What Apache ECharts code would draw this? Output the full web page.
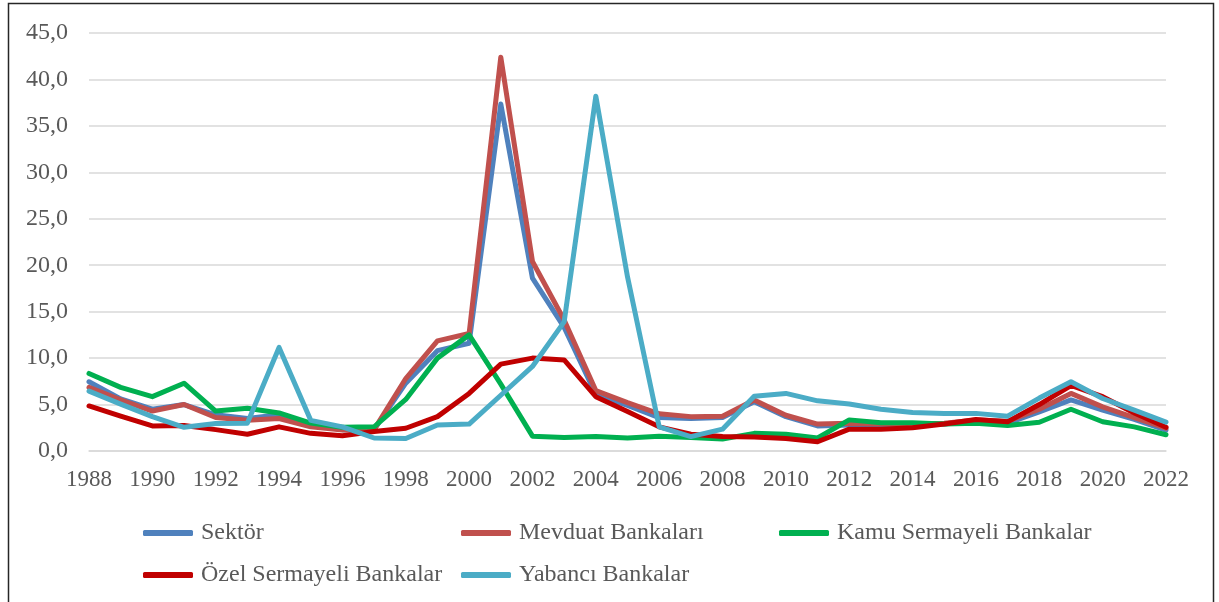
<!DOCTYPE html>
<html>
<head>
<meta charset="utf-8">
<script src="https://cdn.jsdelivr.net/npm/echarts@6/dist/echarts.min.js"></script>
<style>
  html, body { margin: 0; padding: 0; background: #fff; }
  #container { width: 1219px; height: 602px; }
</style>
</head>
<body>
<div id="container"></div>
<script>
  var years = [];
  for (var y = 1988; y <= 2022; y++) years.push(String(y));

  var sektor = [7.45, 5.6, 4.5, 5.0, 3.9, 3.5, 3.9, 2.8, 2.3, 2.3, 7.3, 10.8, 11.6, 37.35, 18.6, 13.3, 6.1, 4.9, 3.6, 3.5, 3.6, 5.3, 3.7, 2.7, 2.8, 2.8, 2.8, 2.9, 3.2, 3.0, 4.2, 5.5, 4.4, 3.4, 2.25];
  var mevduat = [6.85, 5.5, 4.3, 5.0, 3.6, 3.3, 3.5, 2.6, 2.25, 2.3, 7.8, 11.85, 12.65, 42.4, 20.4, 14.1, 6.5, 5.2, 4.0, 3.7, 3.75, 5.5, 3.85, 2.9, 3.0, 2.9, 2.9, 3.0, 3.35, 3.2, 4.5, 6.2, 4.75, 3.6, 2.45];
  var kamu = [8.35, 6.85, 5.85, 7.3, 4.3, 4.6, 4.1, 3.0, 2.55, 2.6, 5.55, 10.0, 12.5, 7.2, 1.6, 1.45, 1.55, 1.4, 1.6, 1.45, 1.3, 1.9, 1.8, 1.4, 3.35, 3.05, 3.05, 2.9, 3.0, 2.75, 3.1, 4.5, 3.15, 2.6, 1.75];
  var ozel = [4.85, 3.75, 2.7, 2.75, 2.3, 1.8, 2.6, 1.9, 1.65, 2.1, 2.45, 3.7, 6.2, 9.35, 10.0, 9.8, 5.85, 4.25, 2.6, 1.8, 1.55, 1.5, 1.35, 1.0, 2.35, 2.35, 2.5, 2.9, 3.4, 3.15, 5.0, 7.05, 5.85, 4.1, 2.55];
  var yabanci = [6.45, 5.05, 3.7, 2.55, 2.95, 3.0, 11.15, 3.3, 2.6, 1.4, 1.35, 2.8, 2.9, 6.0, 9.1, 13.9, 38.2, 18.75, 2.6, 1.55, 2.35, 5.9, 6.2, 5.4, 5.05, 4.5, 4.15, 4.05, 4.05, 3.75, 5.7, 7.45, 5.65, 4.4, 3.1];

  var names = ['Sektör', 'Mevduat Bankaları', 'Kamu Sermayeli Bankalar', 'Özel Sermayeli Bankalar', 'Yabancı Bankalar'];
  var colors = ['#4F81BD', '#C0504D', '#00B050', '#C00000', '#4BACC6'];
  var values = [sektor, mevduat, kamu, ozel, yabanci];

  var font = 'Liberation Serif';
  var textColor = '#595959';

  // legend positions (two rows, three columns)
  var legendPos = [[143, 521], [461, 521], [779, 521], [143, 563], [461, 563]];

  var myChart = echarts.init(document.getElementById('container'));

  var option = {
    animation: false,
    backgroundColor: '#fff',
    textStyle: { fontFamily: font },
    graphic: [{
      type: 'rect',
      shape: { x: 8.5, y: 3.5, width: 1205, height: 640 },
      style: { fill: 'none', stroke: '#262626', lineWidth: 1.5 },
      silent: true
    }],
    grid: { left: 89, right: 53, top: 33, bottom: 151 },
    legend: names.map(function (n, i) {
      return {
        data: [n],
        left: legendPos[i][0],
        top: legendPos[i][1],
        padding: 0,
        icon: 'roundRect',
        itemWidth: 50,
        itemHeight: 6,
        textStyle: { fontFamily: font, fontSize: 24, color: textColor, padding: [0, 0, 0, 3] }
      };
    }),
    xAxis: {
      type: 'category',
      data: years,
      boundaryGap: false,
      axisLine: { show: true, lineStyle: { color: '#d9d9d9', width: 1.5 } },
      axisTick: { show: false },
      axisLabel: {
        interval: 1,
        margin: 17,
        fontFamily: font,
        fontSize: 23,
        color: textColor
      }
    },
    yAxis: {
      type: 'value',
      min: 0,
      max: 45,
      interval: 5,
      axisLine: { show: false },
      axisTick: { show: false },
      splitLine: { lineStyle: { color: '#d9d9d9', width: 1.5 } },
      axisLabel: {
        margin: 21,
        fontFamily: font,
        fontSize: 24,
        color: textColor,
        formatter: function (v) { return v.toFixed(1).replace('.', ','); }
      }
    },
    series: names.map(function (n, i) {
      return {
        name: n,
        type: 'line',
        data: values[i],
        symbol: 'none',
        color: colors[i],
        lineStyle: { width: 5, color: colors[i], cap: 'round', join: 'round' }
      };
    })
  };

  myChart.setOption(option);
</script>
</body>
</html>
